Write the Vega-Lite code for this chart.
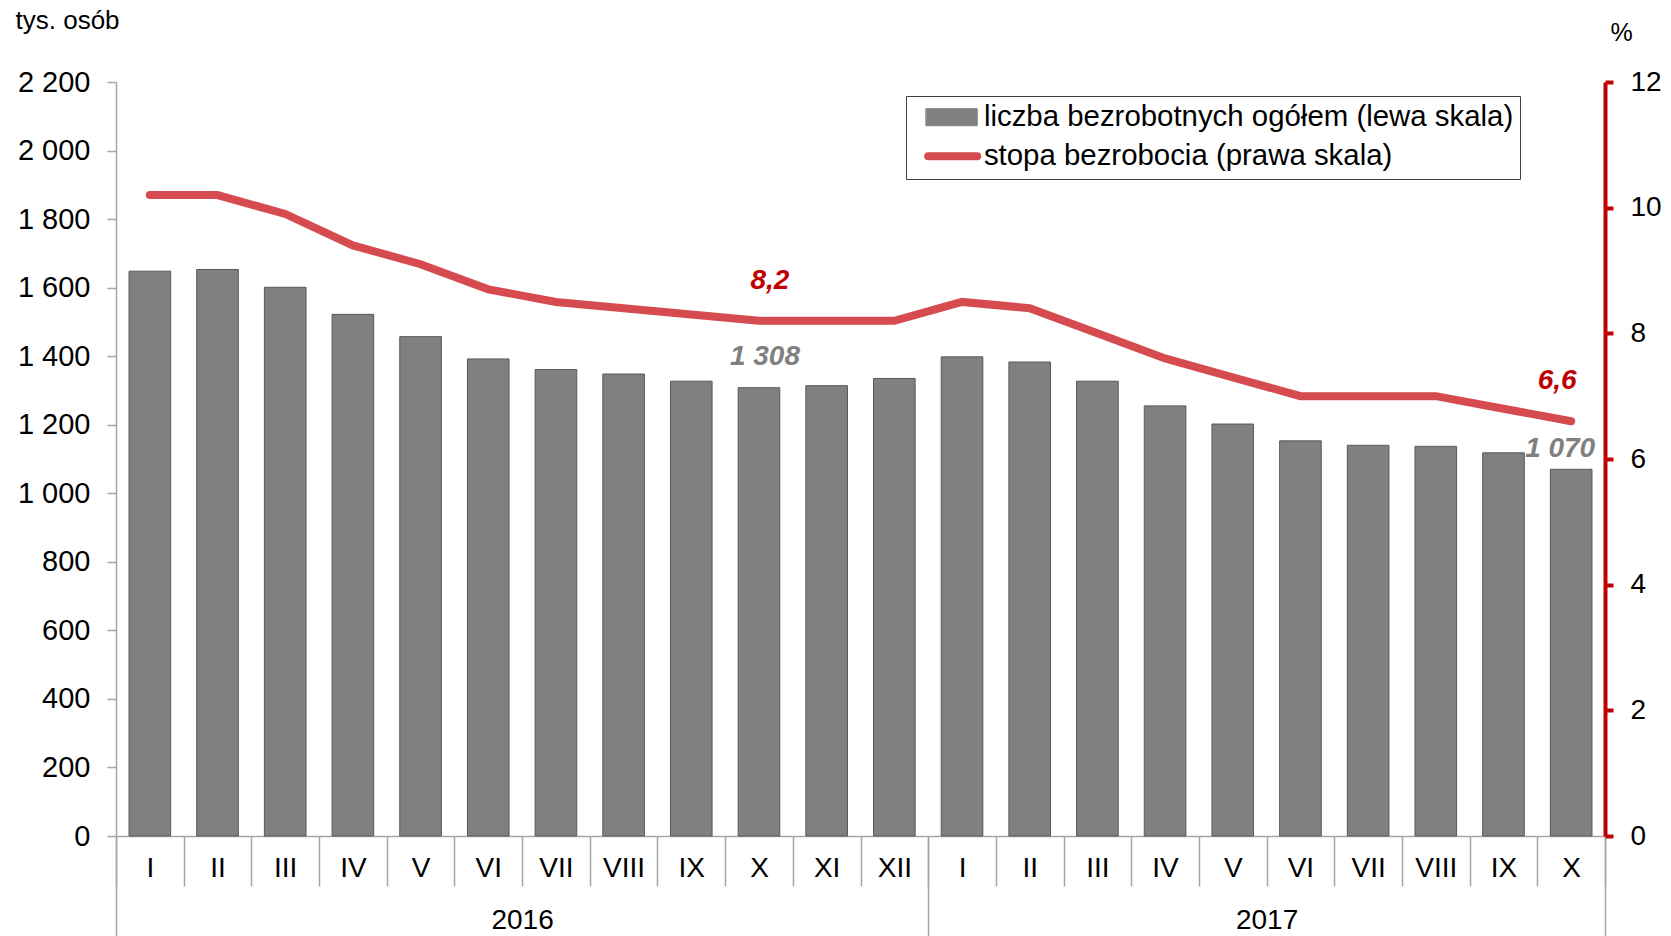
{
  "$schema": "https://vega.github.io/schema/vega-lite/v6.json",
  "width": 1489,
  "height": 754,
  "autosize": {"type": "none"},
  "padding": {"left": 116, "top": 82, "right": 66, "bottom": 100},
  "background": "white",
  "config": {
    "font": "Liberation Sans",
    "view": {"stroke": null},
    "locale": {"number": {"decimal": ",", "thousands": " ", "grouping": [3], "currency": ["", " zł"]}}
  },
  "datasets": {
    "miesiace": [
      {"okres": "2016-I", "liczba": 1648, "stopa": 10.2},
      {"okres": "2016-II", "liczba": 1653, "stopa": 10.2},
      {"okres": "2016-III", "liczba": 1601, "stopa": 9.9},
      {"okres": "2016-IV", "liczba": 1522, "stopa": 9.4},
      {"okres": "2016-V", "liczba": 1457, "stopa": 9.1},
      {"okres": "2016-VI", "liczba": 1392, "stopa": 8.7},
      {"okres": "2016-VII", "liczba": 1361, "stopa": 8.5},
      {"okres": "2016-VIII", "liczba": 1348, "stopa": 8.4},
      {"okres": "2016-IX", "liczba": 1327, "stopa": 8.3},
      {"okres": "2016-X", "liczba": 1308, "stopa": 8.2},
      {"okres": "2016-XI", "liczba": 1314, "stopa": 8.2},
      {"okres": "2016-XII", "liczba": 1335, "stopa": 8.2},
      {"okres": "2017-I", "liczba": 1398, "stopa": 8.5},
      {"okres": "2017-II", "liczba": 1383, "stopa": 8.4},
      {"okres": "2017-III", "liczba": 1327, "stopa": 8.0},
      {"okres": "2017-IV", "liczba": 1255, "stopa": 7.6},
      {"okres": "2017-V", "liczba": 1202, "stopa": 7.3},
      {"okres": "2017-VI", "liczba": 1153, "stopa": 7.0},
      {"okres": "2017-VII", "liczba": 1140, "stopa": 7.0},
      {"okres": "2017-VIII", "liczba": 1137, "stopa": 7.0},
      {"okres": "2017-IX", "liczba": 1118, "stopa": 6.8},
      {"okres": "2017-X", "liczba": 1070, "stopa": 6.6}
    ],
    "lata": [
      {"rok": "2016", "srodek": 6},
      {"rok": "2017", "srodek": 17}
    ],
    "granice": [
      {"granica": 0},
      {"granica": 12},
      {"granica": 22}
    ]
  },
  "layer": [
    {
      "data": {"name": "miesiace"},
      "encoding": {
        "x": {
          "field": "okres",
          "type": "ordinal",
          "sort": null,
          "scale": {"paddingInner": 0, "paddingOuter": 0},
          "axis": {
            "orient": "bottom",
            "title": null,
            "labelExpr": "split(datum.label, '-')[1]",
            "labelAngle": 0,
            "tickBand": "extent",
            "tickSize": 50,
            "tickColor": "#a6a6a6",
            "tickWidth": 1.5,
            "domainColor": "#a6a6a6",
            "domainWidth": 1.5,
            "labelFontSize": 28,
            "labelColor": "#000000",
            "labelPadding": -18,
            "labelBaseline": "middle",
            "labelOverlap": false,
            "grid": false
          }
        }
      },
      "layer": [
        {
          "encoding": {
            "y": {
              "field": "liczba",
              "type": "quantitative",
              "scale": {"domain": [0, 2200], "nice": false},
              "axis": {
                "orient": "left",
                "title": "tys. osób",
                "values": [0, 200, 400, 600, 800, 1000, 1200, 1400, 1600, 1800, 2000, 2200],
                "format": ",d",
                "tickSize": 9,
                "tickColor": "#a6a6a6",
                "tickWidth": 1.5,
                "domainColor": "#a6a6a6",
                "domainWidth": 1.5,
                "labelFontSize": 29,
                "labelColor": "#000000",
                "labelPadding": 17,
                "grid": false,
                "titleAngle": 0,
                "titleAlign": "left",
                "titleBaseline": "alphabetic",
                "titleX": -101,
                "titleY": -54,
                "titleFontSize": 26,
                "titleFontWeight": "normal",
                "titleColor": "#000000"
              }
            }
          },
          "layer": [
            {
              "mark": {"type": "bar", "width": {"band": 0.615}, "stroke": "#595959", "strokeWidth": 1},
              "encoding": {
                "color": {
                  "datum": "liczba bezrobotnych ogółem (lewa skala)",
                  "type": "nominal",
                  "scale": {
                    "domain": ["liczba bezrobotnych ogółem (lewa skala)", "stopa bezrobocia (prawa skala)"],
                    "range": ["#808080", "#d64b4f"]
                  },
                  "legend": {
                    "title": null,
                    "orient": "none",
                    "legendX": 790,
                    "legendY": 14,
                    "padding": 6.5,
                    "strokeColor": "#404040",
                    "fillColor": "#ffffff",
                    "labelFontSize": 29.4,
                    "labelColor": "#000000",
                    "labelLimit": 1000,
                    "labelOffset": 42,
                    "rowPadding": 7,
                    "symbolSize": 400,
                    "encoding": {
                      "symbols": {
                        "shape": {"value": {"expr": "datum.value == 'stopa bezrobocia (prawa skala)' ? 'M0.1,0H5.0' : 'M-0.1,-0.85H5.0V0.85H-0.1Z'"}},
                        "fill": {"value": {"expr": "datum.value == 'stopa bezrobocia (prawa skala)' ? 'transparent' : '#808080'"}},
                        "stroke": {"value": {"expr": "datum.value == 'stopa bezrobocia (prawa skala)' ? '#d64b4f' : '#595959'"}},
                        "strokeWidth": {"value": {"expr": "datum.value == 'stopa bezrobocia (prawa skala)' ? 8 : 1"}},
                        "strokeCap": {"value": "round"},
                        "opacity": {"value": 1}
                      }
                    }
                  }
                }
              }
            },
            {
              "transform": [{"filter": "datum.okres == '2016-X'"}],
              "mark": {"type": "text", "fontSize": 28, "fontWeight": "bold", "fontStyle": "italic", "color": "#808080", "dx": 6, "dy": -31, "baseline": "middle"},
              "encoding": {"text": {"field": "liczba", "type": "quantitative", "format": ",d"}}
            },
            {
              "transform": [{"filter": "datum.okres == '2017-X'"}],
              "mark": {"type": "text", "fontSize": 28, "fontWeight": "bold", "fontStyle": "italic", "color": "#808080", "dx": -11, "dy": -20, "baseline": "middle"},
              "encoding": {"text": {"field": "liczba", "type": "quantitative", "format": ",d"}}
            }
          ]
        },
        {
          "encoding": {
            "y": {
              "field": "stopa",
              "type": "quantitative",
              "scale": {"domain": [0, 12], "nice": false},
              "axis": {
                "orient": "right",
                "title": "%",
                "values": [0, 2, 4, 6, 8, 10, 12],
                "tickSize": 8,
                "tickColor": "#c00000",
                "tickWidth": 4,
                "domainColor": "#c00000",
                "domainWidth": 4,
                "labelFontSize": 28,
                "labelColor": "#000000",
                "labelPadding": 17,
                "grid": false,
                "titleAngle": 0,
                "titleAlign": "center",
                "titleBaseline": "alphabetic",
                "titleX": 16,
                "titleY": -42,
                "titleFontSize": 25,
                "titleFontWeight": "normal",
                "titleColor": "#000000"
              }
            }
          },
          "layer": [
            {
              "mark": {"type": "line", "strokeWidth": 8, "strokeCap": "round"},
              "encoding": {
                "color": {"datum": "stopa bezrobocia (prawa skala)", "type": "nominal"}
              }
            },
            {
              "transform": [{"filter": "datum.okres == '2016-X'"}],
              "mark": {"type": "text", "fontSize": 28, "fontWeight": "bold", "fontStyle": "italic", "color": "#c00000", "dx": 11, "dy": -40, "baseline": "middle"},
              "encoding": {"text": {"field": "stopa", "type": "quantitative", "format": ",.1f"}}
            },
            {
              "transform": [{"filter": "datum.okres == '2017-X'"}],
              "mark": {"type": "text", "fontSize": 28, "fontWeight": "bold", "fontStyle": "italic", "color": "#c00000", "dx": -14, "dy": -40, "baseline": "middle"},
              "encoding": {"text": {"field": "stopa", "type": "quantitative", "format": ",.1f"}}
            }
          ]
        }
      ],
      "resolve": {"scale": {"y": "independent"}}
    },
    {
      "data": {"name": "lata"},
      "mark": {"type": "point", "opacity": 0},
      "encoding": {
        "x": {
          "field": "srodek",
          "type": "quantitative",
          "scale": {"domain": [0, 22], "nice": false, "zero": false},
          "axis": {
            "orient": "bottom",
            "title": null,
            "values": [6, 17],
            "labelExpr": "datum.value == 6 ? '2016' : '2017'",
            "ticks": false,
            "tickSize": 0,
            "domain": false,
            "grid": false,
            "labelFontSize": 28,
            "labelColor": "#000000",
            "labelPadding": 84,
            "labelBaseline": "middle",
            "labelFlush": false,
            "labelOverlap": false
          }
        }
      }
    },
    {
      "data": {"name": "granice"},
      "mark": {"type": "point", "opacity": 0},
      "encoding": {
        "x": {
          "field": "granica",
          "type": "quantitative",
          "scale": {"domain": [0, 22], "nice": false, "zero": false},
          "axis": {
            "orient": "bottom",
            "title": null,
            "values": [0, 12, 22],
            "labels": false,
            "domain": false,
            "grid": false,
            "ticks": true,
            "tickSize": 100,
            "tickColor": "#a6a6a6",
            "tickWidth": 1.5
          }
        }
      }
    }
  ],
  "resolve": {"scale": {"x": "independent"}}
}
